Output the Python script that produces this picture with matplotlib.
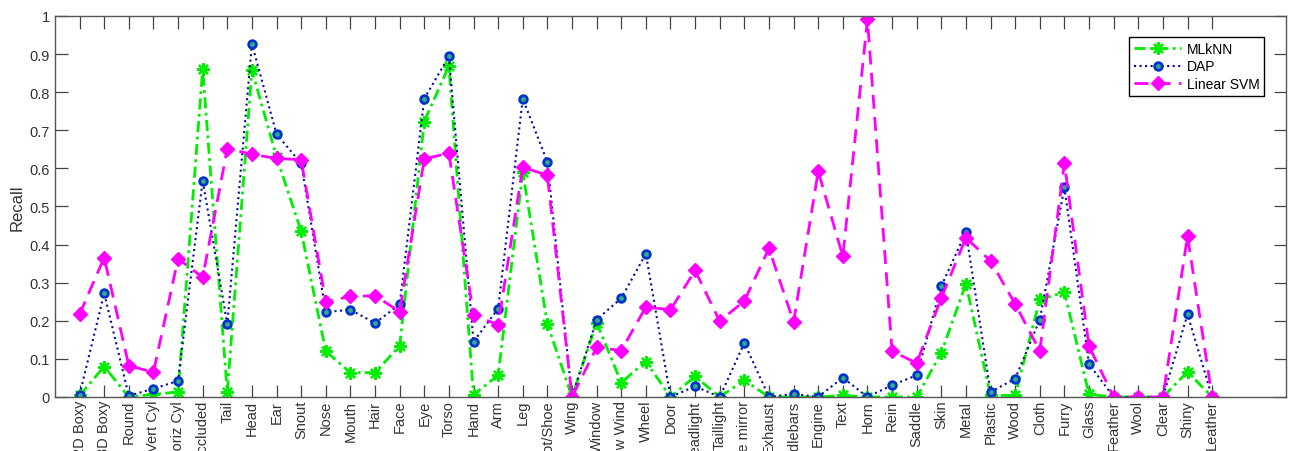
import numpy as np
import matplotlib
matplotlib.use('Agg')
import matplotlib.pyplot as plt

# attribute names on the x axis
attributes = ['2D Boxy', '3D Boxy', 'Round', 'Vert Cyl', 'Horiz Cyl', 'Occluded', 'Tail',
              'Head', 'Ear', 'Snout', 'Nose', 'Mouth', 'Hair', 'Face', 'Eye', 'Torso',
              'Hand', 'Arm', 'Leg', 'Foot/Shoe', 'Wing', 'Window', 'Row Wind', 'Wheel',
              'Door', 'Headlight', 'Taillight', 'Side mirror', 'Exhaust', 'Handlebars',
              'Engine', 'Text', 'Horn', 'Rein', 'Saddle', 'Skin', 'Metal', 'Plastic',
              'Wood', 'Cloth', 'Furry', 'Glass', 'Feather', 'Wool', 'Clear', 'Shiny',
              'Leather']

# recall per attribute
mlknn = [0.004, 0.080, 0.000, 0.007, 0.013, 0.860, 0.013, 0.858, 0.630, 0.435,
         0.120, 0.064, 0.064, 0.134, 0.723, 0.869, 0.006, 0.057, 0.590, 0.192,
         0.000, 0.195, 0.038, 0.093, 0.000, 0.054, 0.000, 0.044, 0.000, 0.000,
         0.000, 0.004, 0.000, 0.000, 0.000, 0.116, 0.297, 0.004, 0.004, 0.256,
         0.275, 0.007, 0.000, 0.000, 0.000, 0.066, 0.000]

dap = [0.006, 0.272, 0.003, 0.022, 0.042, 0.568, 0.191, 0.927, 0.690, 0.613,
       0.223, 0.229, 0.194, 0.243, 0.783, 0.894, 0.145, 0.232, 0.783, 0.617,
       0.000, 0.203, 0.259, 0.376, 0.000, 0.028, 0.000, 0.142, 0.000, 0.008,
       0.000, 0.051, 0.000, 0.031, 0.057, 0.291, 0.433, 0.013, 0.048, 0.203,
       0.550, 0.086, 0.000, 0.000, 0.000, 0.217, 0.000]

svm = [0.217, 0.366, 0.082, 0.065, 0.363, 0.314, 0.652, 0.637, 0.626, 0.623,
       0.250, 0.264, 0.266, 0.224, 0.625, 0.640, 0.214, 0.190, 0.603, 0.582,
       0.000, 0.130, 0.122, 0.236, 0.229, 0.332, 0.199, 0.252, 0.390, 0.197,
       0.592, 0.369, 0.991, 0.120, 0.089, 0.260, 0.418, 0.357, 0.244, 0.121,
       0.614, 0.133, 0.000, 0.000, 0.000, 0.422, 0.000]

plt.rcParams['font.family'] = ['Liberation Sans', 'DejaVu Sans']

x = np.arange(1, len(attributes) + 1)

fig = plt.figure(figsize=(12.93, 4.52), dpi=100)
ax = fig.add_axes([0.0425, 0.1195, 0.9521, 0.8429])

# matlab style asterisk marker: 8 spokes
ax.plot(x, mlknn, color='#00ee00', linestyle=(0, (4, 1.6, 1, 1.6)), linewidth=2.0,
        marker=(8, 2, 0), markersize=9, markeredgewidth=1.6, label='MLkNN')
ax.plot(x, dap, color='#0a0a9a', linestyle=':', linewidth=1.5,
        marker='o', markersize=5.5, markeredgewidth=2.0,
        markeredgecolor='#0033cc', markerfacecolor='#33aa88', label='DAP')
ax.plot(x, svm, color='#ff00ff', linestyle=(0, (5, 3)), linewidth=2.0,
        marker='D', markersize=7, markeredgecolor='#ff00ff',
        markerfacecolor='#ff00ff', label='Linear SVM')

ax.set_xlim(0, 50)
ax.set_ylim(0, 1)
ax.set_xticks(x)
ax.set_xticklabels(attributes, rotation=90, va='top', ha='center')
ax.set_yticks(np.arange(0, 1.01, 0.1))
ax.set_yticklabels(['0'] + ['%.1f' % v for v in np.arange(0.1, 0.95, 0.1)] + ['1'])
ax.set_ylabel('Recall', fontsize=12, color='#333333', labelpad=4)

ax.tick_params(axis='both', direction='in', length=9, width=0.9, color='#444444',
               labelsize=10.5, labelcolor='#333333', top=True, right=True)
ax.tick_params(axis='x', pad=2)
for sp in ax.spines.values():
    sp.set_color('#555555')
    sp.set_linewidth(1.0)

leg = ax.legend(loc='upper right', bbox_to_anchor=(0.988, 0.963), fontsize=10,
                handlelength=3.4, labelspacing=0.25, borderpad=0.35,
                handletextpad=0.4, fancybox=False, framealpha=1)
leg.get_frame().set_edgecolor('black')
leg.get_frame().set_linewidth(1.0)

fig.savefig('out.png', dpi=100)
